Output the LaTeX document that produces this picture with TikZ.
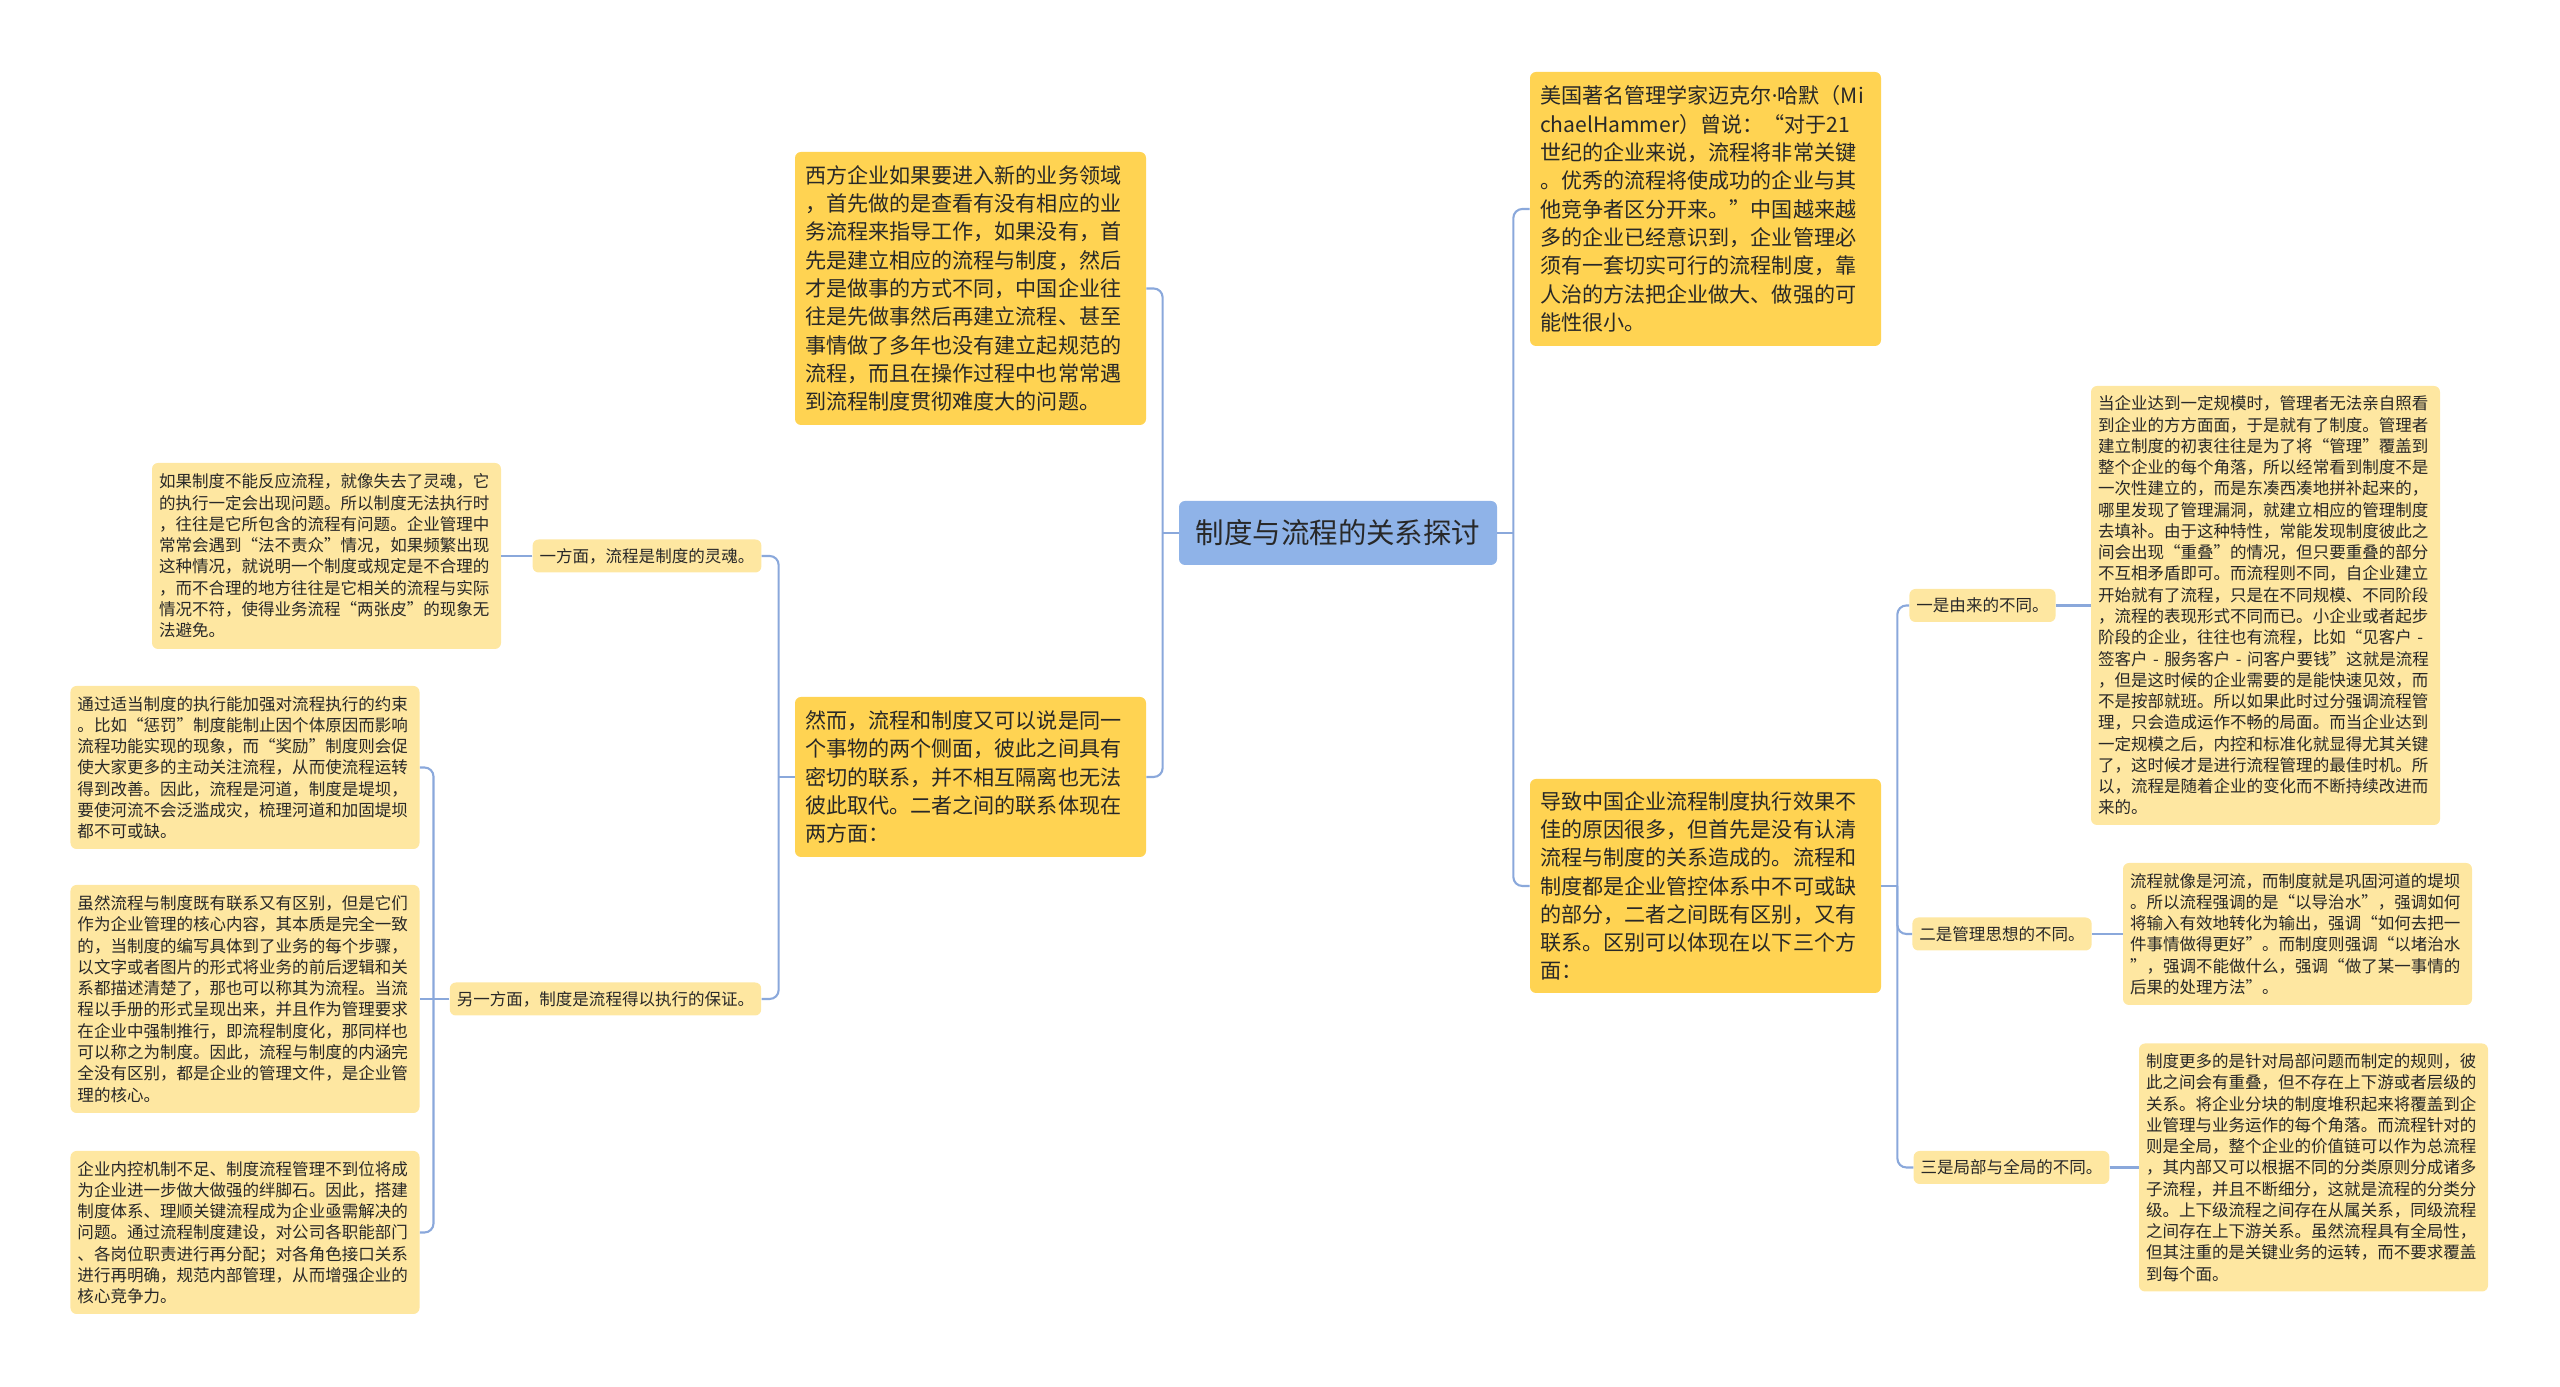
\documentclass[tikz,border=0pt]{standalone}
\usepackage{fontspec}
\setmainfont{Noto Sans CJK SC}
\newfontfamily\latinfont{Noto Sans}
\usepackage{tikz}
\usetikzlibrary{positioning, shapes}
\definecolor{rootblue}{RGB}{143,179,232}
\definecolor{mainyellow}{RGB}{255,211,82}
\definecolor{paleyellow}{RGB}{254,231,161}
\definecolor{linkblue}{RGB}{138,168,219}
\definecolor{inkgray}{RGB}{40,40,40}
\tikzstyle{topic} = [rectangle, rounded corners=0.12cm, minimum width=6.36cm, minimum height=1.28cm, text centered, fill=rootblue, text=inkgray, font=\fontsize{16.2}{19}\selectfont]
\tikzstyle{branch} = [rectangle, rounded corners=0.12cm, text width=6.62cm, inner xsep=0.2cm, inner ysep=0.1cm, align=left, fill=mainyellow, text=inkgray, font=\fontsize{12}{16.1}\selectfont]
\tikzstyle{aspect} = [rectangle, rounded corners=0.12cm, minimum height=0.66cm, inner xsep=0.14cm, text centered, fill=paleyellow, text=inkgray, font=\fontsize{9.4}{12}\selectfont]
\tikzstyle{detail} = [rectangle, rounded corners=0.12cm, text width=6.7cm, inner xsep=0.14cm, inner ysep=0.1cm, align=left, fill=paleyellow, text=inkgray, font=\fontsize{9.4}{12.1}\selectfont]
\tikzstyle{link} = [draw=linkblue, line width=1.2pt, rounded corners=0.18cm]

\begin{document}
\begin{tikzpicture}[node distance=1cm]
            \useasboundingbox (0,0) rectangle (51.2,27.74);
            \node (theme) [topic] at (26.76,17.08) {制度与流程的关系探讨};
            \node (west_firm) [branch, minimum height=5.46cm, left of=theme, xshift=-6.35cm, yshift=4.89cm] {西方企业如果要进入新的业务领域\\，首先做的是查看有没有相应的业\\务流程来指导工作，如果没有，首\\先是建立相应的流程与制度，然后\\才是做事的方式不同，中国企业往\\往是先做事然后再建立流程、甚至\\事情做了多年也没有建立起规范的\\流程，而且在操作过程中也常常遇\\到流程制度贯彻难度大的问题。};
            \node (both) [branch, minimum height=3.2cm, left of=theme, xshift=-6.35cm, yshift=-4.88cm] {然而，流程和制度又可以说是同一\\个事物的两个侧面，彼此之间具有\\密切的联系，并不相互隔离也无法\\彼此取代。二者之间的联系体现在\\两方面：};
            \node (hammer) [branch, minimum height=5.48cm, right of=theme, xshift=6.35cm, yshift=6.48cm] {美国著名管理学家迈克尔{\latinfont ·}哈默（Mi\\chaelHammer）曾说：“对于21\\世纪的企业来说，流程将非常关键\\。优秀的流程将使成功的企业与其\\他竞争者区分开来。”中国越来越\\多的企业已经意识到，企业管理必\\须有一套切实可行的流程制度，靠\\人治的方法把企业做大、做强的可\\能性很小。};
            \node (cause) [branch, minimum height=4.28cm, right of=theme, xshift=6.35cm, yshift=-7.06cm] {导致中国企业流程制度执行效果不\\佳的原因很多，但首先是没有认清\\流程与制度的关系造成的。流程和\\制度都是企业管控体系中不可或缺\\的部分，二者之间既有区别，又有\\联系。区别可以体现在以下三个方\\面：};

            \node (soul) [aspect, left of=both, xshift=-5.47cm, yshift=4.42cm] {一方面，流程是制度的灵魂。};
            \node (guard) [aspect, left of=both, xshift=-6.30cm, yshift=-4.44cm] {另一方面，制度是流程得以执行的保证。};
            \node (soul_txt) [detail, minimum height=3.72cm, left of=soul, xshift=-5.41cm] {如果制度不能反应流程，就像失去了灵魂，它\\的执行一定会出现问题。所以制度无法执行时\\，往往是它所包含的流程有问题。企业管理中\\常常会遇到“法不责众”情况，如果频繁出现\\这种情况，就说明一个制度或规定是不合理的\\，而不合理的地方往往是它相关的流程与实际\\情况不符，使得业务流程“两张皮”的现象无\\法避免。};
            \node (guard_a) [detail, minimum height=3.26cm, left of=guard, xshift=-6.21cm, yshift=4.63cm] {通过适当制度的执行能加强对流程执行的约束\\。比如“惩罚”制度能制止因个体原因而影响\\流程功能实现的现象，而“奖励”制度则会促\\使大家更多的主动关注流程，从而使流程运转\\得到改善。因此，流程是河道，制度是堤坝，\\要使河流不会泛滥成灾，梳理河道和加固堤坝\\都不可或缺。};
            \node (guard_b) [detail, minimum height=4.56cm, left of=guard, xshift=-6.21cm] {虽然流程与制度既有联系又有区别，但是它们\\作为企业管理的核心内容，其本质是完全一致\\的，当制度的编写具体到了业务的每个步骤，\\以文字或者图片的形式将业务的前后逻辑和关\\系都描述清楚了，那也可以称其为流程。当流\\程以手册的形式呈现出来，并且作为管理要求\\在企业中强制推行，即流程制度化，那同样也\\可以称之为制度。因此，流程与制度的内涵完\\全没有区别，都是企业的管理文件，是企业管\\理的核心。};
            \node (guard_c) [detail, minimum height=3.26cm, left of=guard, xshift=-6.21cm, yshift=-4.67cm] {企业内控机制不足、制度流程管理不到位将成\\为企业进一步做大做强的绊脚石。因此，搭建\\制度体系、理顺关键流程成为企业亟需解决的\\问题。通过流程制度建设，对公司各职能部门\\、各岗位职责进行再分配；对各角色接口关系\\进行再明确，规范内部管理，从而增强企业的\\核心竞争力。};

            \node (diff1) [aspect, right of=cause, xshift=4.54cm, yshift=5.61cm] {一是由来的不同。};
            \node (diff2) [aspect, right of=cause, xshift=4.93cm, yshift=-0.96cm] {二是管理思想的不同。};
            \node (diff3) [aspect, right of=cause, xshift=5.12cm, yshift=-5.63cm] {三是局部与全局的不同。};
            \node (diff1_txt) [detail, minimum height=8.78cm, right of=diff1, xshift=4.66cm] {当企业达到一定规模时，管理者无法亲自照看\\到企业的方方面面，于是就有了制度。管理者\\建立制度的初衷往往是为了将“管理”覆盖到\\整个企业的每个角落，所以经常看到制度不是\\一次性建立的，而是东凑西凑地拼补起来的，\\哪里发现了管理漏洞，就建立相应的管理制度\\去填补。由于这种特性，常能发现制度彼此之\\间会出现“重叠”的情况，但只要重叠的部分\\不互相矛盾即可。而流程则不同，自企业建立\\开始就有了流程，只是在不同规模、不同阶段\\，流程的表现形式不同而已。小企业或者起步\\阶段的企业，往往也有流程，比如“见客户 -\\签客户 - 服务客户 - 问客户要钱”这就是流程\\，但是这时候的企业需要的是能快速见效，而\\不是按部就班。所以如果此时过分强调流程管\\理，只会造成运作不畅的局面。而当企业达到\\一定规模之后，内控和标准化就显得尤其关键\\了，这时候才是进行流程管理的最佳时机。所\\以，流程是随着企业的变化而不断持续改进而\\来的。};
            \node (diff2_txt) [detail, minimum height=2.84cm, right of=diff2, xshift=4.91cm] {流程就像是河流，而制度就是巩固河道的堤坝\\。所以流程强调的是“以导治水”，强调如何\\将输入有效地转化为输出，强调“如何去把一\\件事情做得更好”。而制度则强调“以堵治水\\”，强调不能做什么，强调“做了某一事情的\\后果的处理方法”。};
            \node (diff3_txt) [detail, minimum height=4.96cm, right of=diff3, xshift=5.04cm] {制度更多的是针对局部问题而制定的规则，彼\\此之间会有重叠，但不存在上下游或者层级的\\关系。将企业分块的制度堆积起来将覆盖到企\\业管理与业务运作的每个角落。而流程针对的\\则是全局，整个企业的价值链可以作为总流程\\，其内部又可以根据不同的分类原则分成诸多\\子流程，并且不断细分，这就是流程的分类分\\级。上下级流程之间存在从属关系，同级流程\\之间存在上下游关系。虽然流程具有全局性，\\但其注重的是关键业务的运转，而不要求覆盖\\到每个面。};

            \coordinate (jl) at ([xshift=-0.32cm]theme.west);
            \coordinate (jr) at ([xshift=0.32cm]theme.east);
            \coordinate (jm) at ([xshift=-0.32cm]both.west);
            \coordinate (jg) at ([xshift=-0.32cm]guard.west);
            \coordinate (jc) at ([xshift=0.32cm]cause.east);

            \draw [link] (theme.west) -- (jl);
            \draw [link] (west_firm.east) -| (jl) |- (both.east);
            \draw [link] (theme.east) -- (jr);
            \draw [link] (hammer.west) -| (jr) |- (cause.west);
            \draw [link] (both.west) -- (jm);
            \draw [link] (soul.east) -| (jm) |- (guard.east);
            \draw [link] (soul.west) -- (soul_txt.east);
            \draw [link] (guard.west) -- (guard_b.east);
            \draw [link] (guard_a.east) -| (jg) |- (guard_c.east);
            \draw [link] (cause.east) -- (jc);
            \draw [link] (diff1.west) -| (jc) |- (diff3.west);
            \draw [link] (jc) |- (diff2.west);
            \draw [link] (diff1.east) -- (diff1_txt.west);
            \draw [link] (diff2.east) -- (diff2_txt.west);
            \draw [link] (diff3.east) -- (diff3_txt.west);

        \end{tikzpicture}
\end{document}
